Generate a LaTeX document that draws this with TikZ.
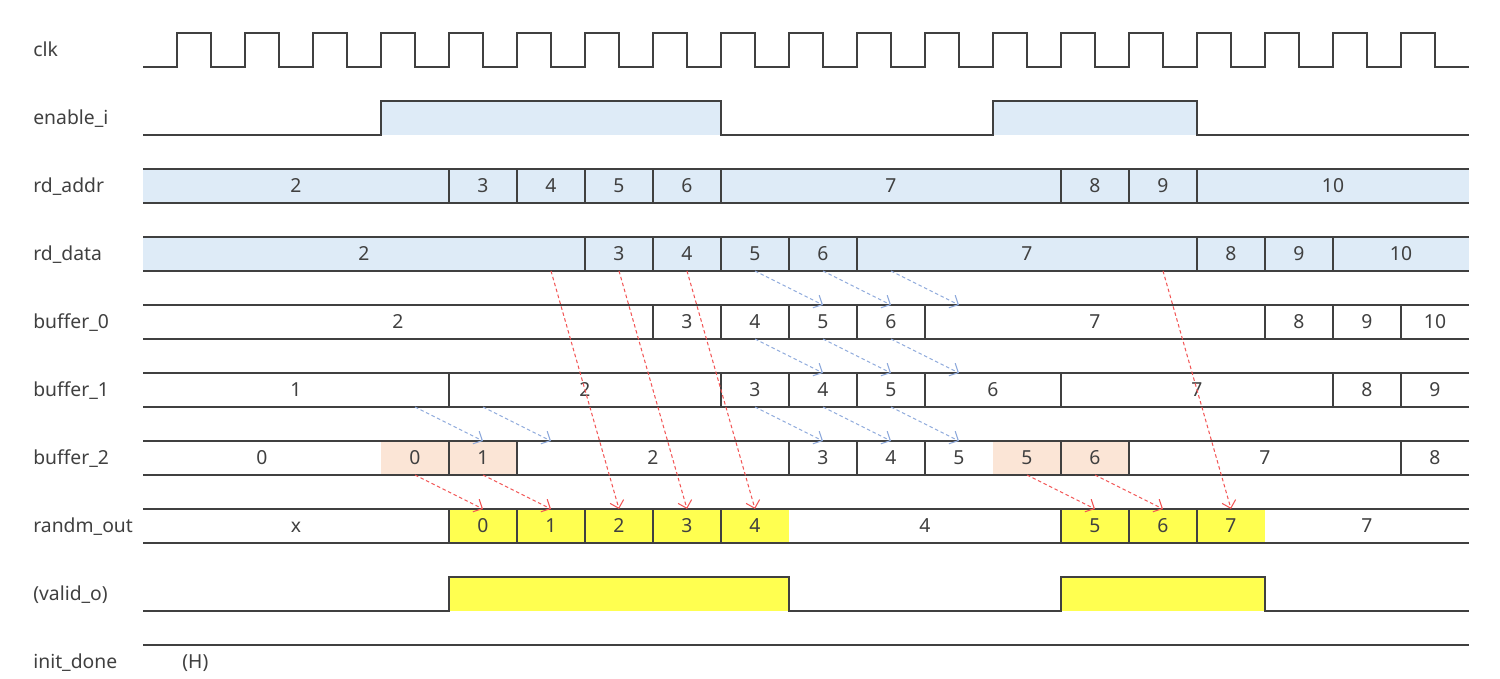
\documentclass[tikz,border=0pt]{standalone}
\usepackage{fontspec}
\setmainfont{Noto Sans}
\usetikzlibrary{arrows.meta, positioning, calc}
\definecolor{wavecolor}{RGB}{64,64,64}
\definecolor{buscolor}{RGB}{222,235,247}
\definecolor{holdcolor}{RGB}{251,229,214}
\definecolor{outcolor}{RGB}{255,255,80}
\definecolor{shiftcolor}{RGB}{143,170,220}
\definecolor{readcolor}{RGB}{242,85,85}
\tikzset{
  wave/.style={draw=wavecolor, line width=0.85pt},
  signame/.style={anchor=west, inner sep=0pt, font=\fontsize{11}{13}\selectfont, text=wavecolor, text height=0.9em, text depth=0.2em},
  cell/.style={rectangle, inner sep=0pt, outer sep=0pt, minimum height=0.68cm, font=\fontsize{11}{13}\selectfont, text=wavecolor, text height=0.9em, text depth=0.2em},
  shiftarr/.style={-{Straight Barb[length=4pt,width=8pt]}, shiftcolor, line width=0.6pt, dash pattern=on 2pt off 1.5pt},
  readarr/.style={shiftarr, readcolor}
}

\begin{document}
\begin{tikzpicture}[x=1.36cm, y=1.36cm]

  \useasboundingbox (-2.103,-9.5) rectangle (19.956,0.485);

  % signal names
  \foreach \n/\t [count=\r from 0] in {clk/clk, en/enable\_i, addrname/rd\_addr, dataname/rd\_data,
      bufAname/buffer\_0, bufBname/buffer\_1, bufCname/buffer\_2, rndname/randm\_out,
      vld/(valid\_o), init/init\_done}
    \node[signame] (\n) at (-1.618,{-\r-0.25}) {\t};

  % clock period centres
  \foreach \p in {1,...,19}
    \coordinate (p\p) at (\p,0);

  % clk
  \draw[wave] (0,-0.5) \foreach \k in {1,...,19} { -- ({\k-0.5},-0.5) -- ({\k-0.5},0) -- (\k,0) -- (\k,-0.5) } -- (19.5,-0.5);

  % enable_i
  \fill[buscolor] (3.5,-1.5) rectangle (8.5,-1);
  \fill[buscolor] (12.5,-1.5) rectangle (15.5,-1);
  \draw[wave] (0,-1.5) -- (3.5,-1.5) -- (3.5,-1) -- (8.5,-1) -- (8.5,-1.5) -- (12.5,-1.5)
    -- (12.5,-1) -- (15.5,-1) -- (15.5,-1.5) -- (19.5,-1.5);

  % rd_addr
  \foreach \a/\b/\v [count=\i] in {0/4.5/2, 4.5/5.5/3, 5.5/6.5/4, 6.5/7.5/5, 7.5/8.5/6,
      8.5/13.5/7, 13.5/14.5/8, 14.5/15.5/9, 15.5/19.5/10}
    \node[cell, fill=buscolor, minimum width={(\b-\a)*1.36cm}] (addr\i) at ({(\a+\b)/2},-2.25) {\v};
  \draw[wave] (addr1.north west) -- (addr9.north east) (addr1.south west) -- (addr9.south east);
  \foreach \i in {2,...,9}
    \draw[wave] (addr\i.north west) -- (addr\i.south west);

  % rd_data
  \foreach \a/\b/\v [count=\i] in {0/6.5/2, 6.5/7.5/3, 7.5/8.5/4, 8.5/9.5/5, 9.5/10.5/6,
      10.5/15.5/7, 15.5/16.5/8, 16.5/17.5/9, 17.5/19.5/10}
    \node[cell, fill=buscolor, minimum width={(\b-\a)*1.36cm}] (data\i) at ({(\a+\b)/2},-3.25) {\v};
  \draw[wave] (data1.north west) -- (data9.north east) (data1.south west) -- (data9.south east);
  \foreach \i in {2,...,9}
    \draw[wave] (data\i.north west) -- (data\i.south west);

  % buffer_0
  \foreach \a/\b/\v [count=\i] in {0/7.5/2, 7.5/8.5/3, 8.5/9.5/4, 9.5/10.5/5, 10.5/11.5/6,
      11.5/16.5/7, 16.5/17.5/8, 17.5/18.5/9, 18.5/19.5/10}
    \node[cell, minimum width={(\b-\a)*1.36cm}] (bufA\i) at ({(\a+\b)/2},-4.25) {\v};
  \draw[wave] (bufA1.north west) -- (bufA9.north east) (bufA1.south west) -- (bufA9.south east);
  \foreach \i in {2,...,9}
    \draw[wave] (bufA\i.north west) -- (bufA\i.south west);

  % buffer_1
  \foreach \a/\b/\v [count=\i] in {0/4.5/1, 4.5/8.5/2, 8.5/9.5/3, 9.5/10.5/4, 10.5/11.5/5,
      11.5/13.5/6, 13.5/17.5/7, 17.5/18.5/8, 18.5/19.5/9}
    \node[cell, minimum width={(\b-\a)*1.36cm}] (bufB\i) at ({(\a+\b)/2},-5.25) {\v};
  \draw[wave] (bufB1.north west) -- (bufB9.north east) (bufB1.south west) -- (bufB9.south east);
  \foreach \i in {2,...,9}
    \draw[wave] (bufB\i.north west) -- (bufB\i.south west);

  % buffer_2
  \foreach \a/\b/\v/\c [count=\i] in {0/3.5/0/white, 3.5/4.5/0/holdcolor, 4.5/5.5/1/holdcolor,
      5.5/9.5/2/white, 9.5/10.5/3/white, 10.5/11.5/4/white, 11.5/12.5/5/white,
      12.5/13.5/5/holdcolor, 13.5/14.5/6/holdcolor, 14.5/18.5/7/white, 18.5/19.5/8/white}
    \node[cell, fill=\c, minimum width={(\b-\a)*1.36cm}] (bufC\i) at ({(\a+\b)/2},-6.25) {\v};
  \draw[wave] (bufC1.north west) -- (bufC11.north east) (bufC1.south west) -- (bufC11.south east);
  \foreach \i in {3,4,5,6,7,9,10,11}
    \draw[wave] (bufC\i.north west) -- (bufC\i.south west);

  % randm_out
  \foreach \a/\b/\v/\c [count=\i] in {0/4.5/x/white, 4.5/5.5/0/outcolor, 5.5/6.5/1/outcolor,
      6.5/7.5/2/outcolor, 7.5/8.5/3/outcolor, 8.5/9.5/4/outcolor, 9.5/13.5/4/white,
      13.5/14.5/5/outcolor, 14.5/15.5/6/outcolor, 15.5/16.5/7/outcolor, 16.5/19.5/7/white}
    \node[cell, fill=\c, minimum width={(\b-\a)*1.36cm}] (rnd\i) at ({(\a+\b)/2},-7.25) {\v};
  \draw[wave] (rnd1.north west) -- (rnd11.north east) (rnd1.south west) -- (rnd11.south east);
  \foreach \i in {2,3,4,5,6,8,9,10}
    \draw[wave] (rnd\i.north west) -- (rnd\i.south west);

  % valid_o
  \fill[outcolor] (4.5,-8.5) rectangle (9.5,-8);
  \fill[outcolor] (13.5,-8.5) rectangle (16.5,-8);
  \draw[wave] (0,-8.5) -- (4.5,-8.5) -- (4.5,-8) -- (9.5,-8) -- (9.5,-8.5) -- (13.5,-8.5)
    -- (13.5,-8) -- (16.5,-8) -- (16.5,-8.5) -- (19.5,-8.5);

  % init_done
  \draw[wave] (0,-9) -- (19.5,-9);
  \node[signame] (initlevel) at (0.574,-9.25) {(H)};

  % shift through the buffers
  \foreach \p/\q in {9/10, 10/11, 11/12} {
    \draw[shiftarr] (p\p |- data1.south) -- (p\q |- bufA1.north);
    \draw[shiftarr] (p\p |- bufA1.south) -- (p\q |- bufB1.north);
  }
  \foreach \p/\q in {4/5, 5/6, 9/10, 10/11, 11/12}
    \draw[shiftarr] (p\p |- bufB1.south) -- (p\q |- bufC1.north);

  % outputs
  \foreach \p/\q in {4/5, 5/6, 13/14, 14/15}
    \draw[readarr] (p\p |- bufC1.south) -- (p\q |- rnd1.north);
  \foreach \p/\q in {6/7, 7/8, 8/9, 15/16}
    \draw[readarr] (p\p |- data1.south) -- (p\q |- rnd1.north);

\end{tikzpicture}
\end{document}
